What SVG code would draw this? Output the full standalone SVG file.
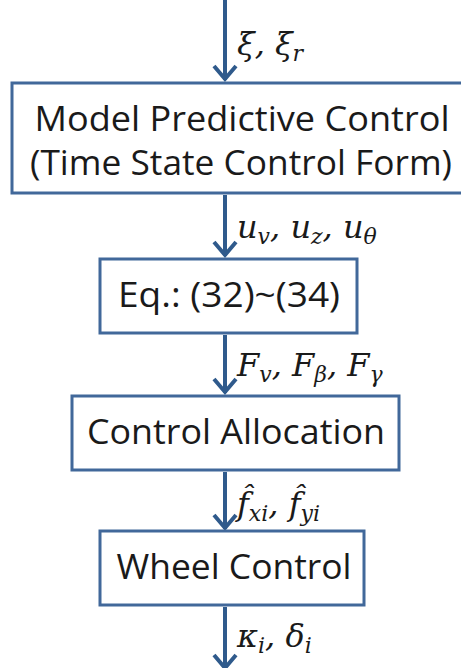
<svg xmlns="http://www.w3.org/2000/svg" width="461" height="668" viewBox="0 0 461 668">
<style>
.box{fill:#fff;stroke:#41689A;stroke-width:3}
.t{font-family:"Open Sans","Noto Sans",sans-serif;font-size:34px;fill:#1a1a1a;text-anchor:middle}
.m{font-family:"DejaVu Serif","Liberation Serif",serif;font-style:italic;font-size:32px;fill:#1a1a1a}
.s{font-size:22px}
.ln{stroke:#2F5A8C;stroke-width:4;fill:none}
.hd{stroke:#2F5A8C;stroke-width:4;fill:none;stroke-linejoin:miter;stroke-linecap:butt}
</style>
<rect width="461" height="668" fill="#fff"/>
<g id="connectors">
<line class="ln" x1="225" y1="0" x2="225" y2="80"/><polyline class="hd" points="214,66 225,79 236,66"/>
<line class="ln" x1="225" y1="195" x2="225" y2="256"/><polyline class="hd" points="214,242 225,255 236,242"/>
<line class="ln" x1="225" y1="335" x2="225" y2="393"/><polyline class="hd" points="214,379 225,392 236,379"/>
<line class="ln" x1="225" y1="472" x2="225" y2="529"/><polyline class="hd" points="214,515 225,528 236,515"/>
<line class="ln" x1="225" y1="607" x2="225" y2="668"/><polyline class="hd" points="214,655 225,668 236,655"/>
<text class="m" x="237" y="55">ξ, ξ<tspan class="s" dy="6">r</tspan></text>
<text class="m" x="237" y="238">u<tspan class="s" dy="6">v</tspan><tspan dy="-6">, u</tspan><tspan class="s" dy="6">z</tspan><tspan dy="-6">, u</tspan><tspan class="s" dy="6">θ</tspan></text>
<text class="m" x="237" y="376">F<tspan class="s" dy="6">v</tspan><tspan dy="-6">, F</tspan><tspan class="s" dy="6">β</tspan><tspan dy="-6">, F</tspan><tspan class="s" dy="6">γ</tspan></text>
<text class="m" x="237" y="515">f̂<tspan class="s" dy="6">xi</tspan><tspan dy="-6">, f̂</tspan><tspan class="s" dy="6">yi</tspan></text>
<text class="m" x="237" y="647">κ<tspan class="s" dy="6">i</tspan><tspan dy="-6">, δ</tspan><tspan class="s" dy="6">i</tspan></text>
</g>
<g id="mpc">
<rect class="box" x="12" y="83" width="455" height="110"/>
<text class="t" x="242" y="131" textLength="415" lengthAdjust="spacingAndGlyphs">Model Predictive Control</text>
<text class="t" x="241" y="175" textLength="422" lengthAdjust="spacingAndGlyphs">(Time State Control Form)</text>
</g>
<g id="eq">
<rect class="box" x="100" y="259" width="257" height="74"/>
<text class="t" x="229" y="307" textLength="222" lengthAdjust="spacingAndGlyphs">Eq.: (32)~(34)</text>
</g>
<g id="alloc">
<rect class="box" x="72" y="396" width="327" height="74"/>
<text class="t" x="236" y="444" textLength="298" lengthAdjust="spacingAndGlyphs">Control Allocation</text>
</g>
<g id="wheel">
<rect class="box" x="100" y="531" width="264" height="74"/>
<text class="t" x="234" y="579" textLength="235" lengthAdjust="spacingAndGlyphs">Wheel Control</text>
</g>
</svg>
